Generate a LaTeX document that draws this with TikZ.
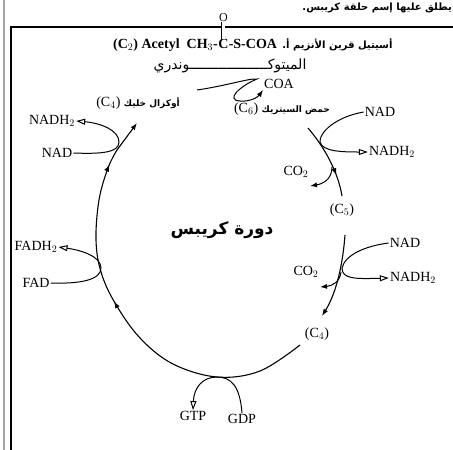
\documentclass[tikz,border=0pt]{standalone}
\usepackage{fontspec}
\setmainfont{Liberation Serif}
\newfontfamily\arabicfont[Script=Arabic]{DejaVu Sans}
\newcommand\arlabel{\arabicfont\bfseries\fontsize{9}{11}\selectfont}
\TeXXeTstate=1
\usetikzlibrary{positioning, arrows.meta, decorations.markings}
\tikzset{
  lbl/.style={font=\fontsize{14}{16}\selectfont, inner sep=1pt},
  hdr/.style={font=\fontsize{14}{16}\selectfont\bfseries, inner sep=0pt},
  cyc/.style={line width=1.1pt},
  side/.style={line width=1pt},
  opentip/.style={-{Triangle[open,length=9pt,width=6pt]}},
  solidtip/.style={-{Latex[length=7pt,width=5pt]}},
  midarr/.style={postaction={decorate,decoration={markings,
      mark=at position #1 with {\arrow{Latex[length=7pt,width=5pt]}}}}},
  frame/.style={line width=1.2pt},
}
\begin{document}
\begin{tikzpicture}[x=1pt,y=-1pt]
  \useasboundingbox (0,0) rectangle (453,450);
  % page frame
  \draw[frame, gray!70] (4,0) -- (4,450);
  \draw[frame] (453,27) -- (11,27) -- (11,450);
  \node[anchor=base east, inner sep=0pt, font=\arabicfont\bfseries\fontsize{10}{12}\selectfont]
    (topline) at (452,10) {\beginR يطلق عليها إسم حلقة كريبس.\endR};

  % acetyl CoA header
  \node[hdr, anchor=base west] (hdA) at (113,48) {(C$_2$) Acetyl\ \ CH$_3$-};
  \node[hdr, anchor=base west] (hdC) at (hdA.base east) {C};
  \node[hdr, anchor=base west] (hdB) at (hdC.base east) {-S-COA};
  \node[anchor=base west, inner sep=0pt, font=\arabicfont\bfseries\fontsize{10}{12}\selectfont]
    (hdAr) at ([xshift=5pt]hdB.base east) {\beginR أسيتيل قرين الأنزيم أ.\endR};
  \node[font=\fontsize{12}{14}\selectfont, inner sep=0pt, above=17pt of hdC] (oxy) {O};
  \draw[double, double distance=2.6pt, line width=0.8pt] (oxy.south) -- (hdC.north);

  \node[font=\arabicfont\fontsize{14}{16}\selectfont] (mito) at (230,66)
    {\beginR الميتوكـــــــــــــــــــوندري\endR};

  \node[lbl] (coa) at (279,84) {COA};
  \node[lbl] (oxal) at (138,103) {(C$_4$) {\arlabel\beginR أوكزال خليك\endR}};
  \node[lbl] (citr) at (282,109) {(C$_6$) {\arlabel\beginR حمض السيتريك\endR}};

  \node[lbl] (nadhL) at (52,121) {NADH$_2$};
  \node[lbl] (nadL) at (57,153) {NAD};
  \node[lbl] (fadhL) at (36,247) {FADH$_2$};
  \node[lbl] (fadL) at (36,283) {FAD};

  \node[lbl] (nadA) at (380,112) {NAD};
  \node[lbl] (nadhA) at (392,152) {NADH$_2$};
  \node[lbl] (coA) at (296,172) {CO$_2$};
  \node[lbl] (c5) at (342,210) {(C$_5$)};
  \node[lbl] (nadB) at (405,243) {NAD};
  \node[lbl] (nadhB) at (413,278) {NADH$_2$};
  \node[lbl] (coB) at (306,272) {CO$_2$};
  \node[lbl] (c4b) at (317,334) {(C$_4$)};
  \node[lbl] (gtp) at (193,416) {GTP};
  \node[lbl] (gdp) at (242,419) {GDP};

  \node[font=\arabicfont\bfseries\fontsize{17}{19}\selectfont] (title) at (222,230)
    {\beginR دورة كريبس\endR};

  % cycle
  \coordinate (cfour) at (300,345);
  \coordinate (cjoin) at (117,150);
  \coordinate (ctip) at (137,123);
  \draw[cyc, solidtip, midarr=0.54, midarr=0.88] plot[smooth, tension=0.6] coordinates
    {(cfour) (260,371) (217,377) (173,364) (140,338) (115,303) (101,272) (96,240) (99,200) (108,168) (cjoin)}
    -- (ctip);
  \coordinate (csix) at (308,128);
  \coordinate (cfiveTop) at (342,196);
  \draw[cyc, midarr=0.72] (csix) .. controls (325,148) and (338,172) .. (cfiveTop);
  \coordinate (cfive) at (345,235);
  \draw[cyc, solidtip] (cfive) .. controls (343,262) and (337,292) .. (322,316);

  % coenzyme A loop
  \coordinate (coain) at (197,90);
  \draw[side, solidtip] (coain) .. controls (225,86) and (250,78) .. (257,79)
    .. controls (240,86) and (225,100) .. (240,101)
    .. controls (250,102) and (258,97) .. (coa.south west);

  % side reactions
  \draw[side, opentip] (nadL.east) .. controls (100,154) and (119,153) .. (119,142)
    .. controls (119,130) and (100,123) .. (nadhL.east);
  \draw[side, opentip] (fadL.east) .. controls (80,284) and (101,280) .. (101,268)
    .. controls (101,256) and (80,250) .. (fadhL.east);
  \draw[side, opentip] (nadA.west) .. controls (335,117) and (319,133) .. (320,142)
    .. controls (322,152) and (345,152) .. (nadhA.west);
  \coordinate (cotipA) at (310,186);
  \draw[side, solidtip] (332,167) .. controls (332,180) and (322,184) .. (cotipA);
  \draw[side, opentip] (nadB.west) .. controls (365,246) and (345,255) .. (342,268)
    .. controls (342,279) and (355,279) .. (nadhB.west);
  \coordinate (cotipB) at (320,287);
  \draw[side, solidtip] (341,272) .. controls (340,282) and (332,286) .. (cotipB);
  \draw[side, opentip] (gdp.north) .. controls (240,386) and (231,377) .. (217,377)
    .. controls (203,377) and (194,387) .. (gtp.north);
\end{tikzpicture}
\end{document}
